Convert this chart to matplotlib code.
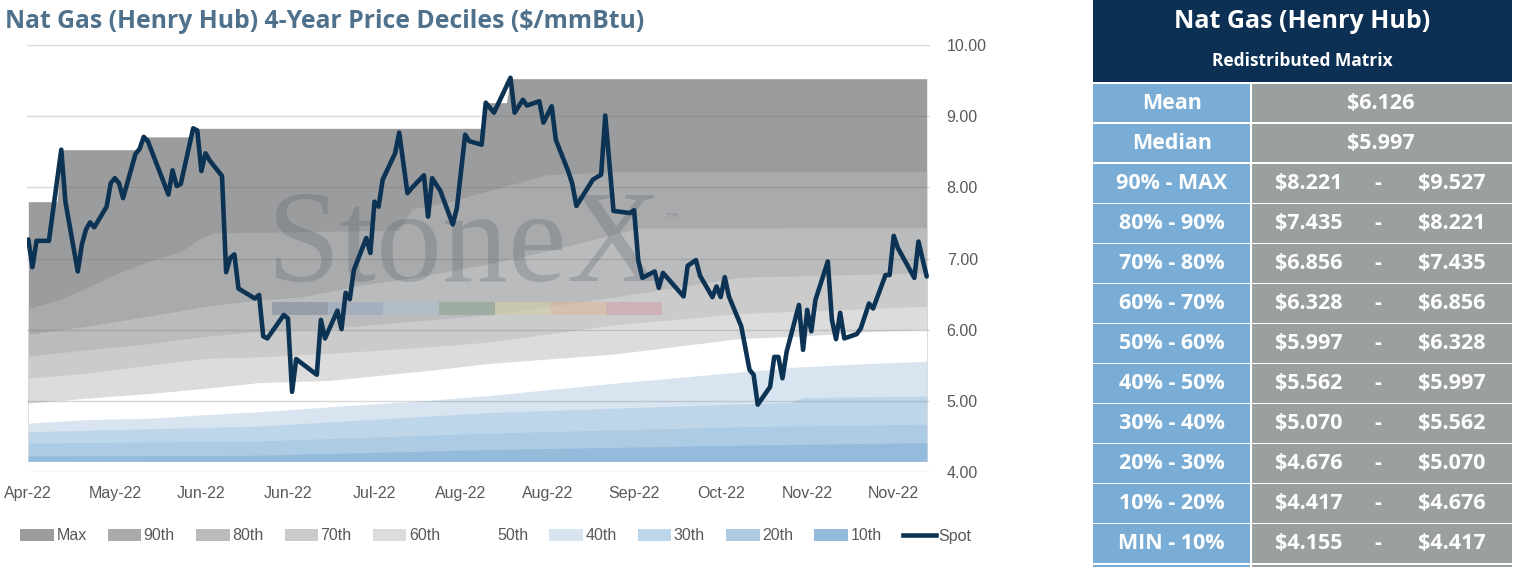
import numpy as np
import matplotlib
matplotlib.use("Agg")
import matplotlib.pyplot as plt
from matplotlib.patches import Rectangle, Patch
from matplotlib.lines import Line2D

# ---------------- data ----------------
title = "Nat Gas (Henry Hub) 4-Year Price Deciles ($/mmBtu)"
tick_idx = [0, 21, 42, 63, 84, 105, 126, 147, 168, 189, 210]
tick_labels = ["Apr-22", "May-22", "Jun-22", "Jun-22", "Jul-22", "Aug-22",
               "Aug-22", "Sep-22", "Oct-22", "Nov-22", "Nov-22"]
n_last = 218

spot_idx = [0, 1, 2, 5, 8, 9, 12, 13, 14, 15, 16, 19, 20, 21, 22, 23, 26, 27, 28, 29,
            34, 35, 36, 37, 40, 41, 42, 43, 44, 47, 48, 49, 50, 51, 55, 56, 57, 58,
            62, 63, 64, 65, 70, 71, 72, 75, 76, 77, 78, 79, 82, 83, 84, 85, 86, 89, 90,
            92, 93, 96, 97, 98, 100, 103, 104, 106, 107, 110, 111, 113, 117, 118, 120,
            121, 124, 125, 127, 128, 131, 132, 133, 137, 139, 140, 142, 146, 147, 148,
            149, 152, 153, 154, 159, 160, 162, 163, 166, 167, 168, 169, 170, 173, 175,
            176, 177, 180, 181, 182, 183, 184, 187, 188, 189, 190, 191, 194, 195, 196,
            197, 198, 201, 202, 204, 205, 208, 209, 210, 211, 215, 216, 218]
spot_val = [7.27, 6.88, 7.25, 7.25, 8.53, 7.80, 6.82, 7.20, 7.41, 7.51, 7.44, 7.73, 8.06,
            8.13, 8.06, 7.85, 8.47, 8.54, 8.71, 8.65, 7.90, 8.24, 8.02, 8.05, 8.83, 8.80,
            8.23, 8.48, 8.38, 8.16, 6.81, 7.01, 7.06, 6.58, 6.44, 6.49, 5.91, 5.88, 6.21,
            6.16, 5.13, 5.59, 5.37, 6.14, 5.88, 6.27, 6.01, 6.52, 6.43, 6.84, 7.29, 7.08,
            7.80, 7.73, 8.11, 8.48, 8.77, 7.92, 7.99, 8.17, 7.59, 8.13, 7.95, 7.48, 7.71,
            8.74, 8.65, 8.60, 9.19, 9.05, 9.54, 9.05, 9.23, 9.15, 9.21, 8.91, 9.14, 8.67,
            8.23, 8.05, 7.74, 8.11, 8.18, 9.01, 7.67, 7.64, 7.68, 6.98, 6.73, 6.82, 6.59,
            6.80, 6.47, 6.90, 6.98, 6.76, 6.46, 6.61, 6.46, 6.74, 6.47, 6.05, 5.44, 5.37,
            4.95, 5.20, 5.62, 5.62, 5.32, 5.69, 6.35, 5.72, 6.28, 5.98, 6.42, 6.96, 6.14,
            5.87, 6.24, 5.88, 5.94, 6.02, 6.37, 6.30, 6.77, 6.77, 7.32, 7.15, 6.73, 7.24,
            6.75]

min_value = 4.155
max_idx = [0, 7, 8, 27, 28, 39, 40, 110, 111, 116, 117, 218]
max_val = [7.80, 7.80, 8.53, 8.53, 8.71, 8.71, 8.83, 8.83, 9.19, 9.19, 9.527, 9.527]
p90_idx = [0, 8, 14, 22, 30, 37, 42, 45, 90, 93, 102, 112, 126, 142, 218]
p90_val = [6.30, 6.43, 6.59, 6.80, 6.98, 7.10, 7.29, 7.36, 7.40, 7.70, 7.80, 7.96, 8.18, 8.22, 8.221]
p80_idx = [0, 14, 30, 43, 50, 56, 66, 80, 95, 112, 129, 148, 218]
p80_val = [5.94, 6.05, 6.20, 6.33, 6.38, 6.42, 6.46, 6.62, 6.75, 6.93, 7.15, 7.43, 7.435]
p70_idx = [0, 14, 30, 43, 56, 73, 97, 112, 142, 173, 218]
p70_val = [5.63, 5.72, 5.81, 5.91, 5.98, 6.02, 6.14, 6.21, 6.46, 6.74, 6.80]
p60_idx = [0, 14, 30, 43, 56, 73, 97, 112, 142, 173, 218]
p60_val = [5.32, 5.39, 5.51, 5.60, 5.62, 5.67, 5.76, 5.83, 6.07, 6.23, 6.33]
p50_idx = [0, 14, 30, 43, 56, 73, 97, 112, 142, 173, 187, 205, 218]
p50_val = [4.97, 5.04, 5.11, 5.18, 5.26, 5.29, 5.43, 5.53, 5.66, 5.88, 5.91, 5.98, 6.00]
p40_idx = [0, 14, 30, 43, 56, 73, 97, 112, 142, 173, 187, 205, 218]
p40_val = [4.69, 4.74, 4.76, 4.81, 4.85, 4.92, 5.01, 5.08, 5.25, 5.41, 5.48, 5.53, 5.56]
p30_idx = [0, 56, 112, 173, 185, 188, 218]
p30_val = [4.57, 4.65, 4.84, 4.96, 4.98, 5.05, 5.07]
p20_idx = [0, 56, 112, 173, 218]
p20_val = [4.41, 4.44, 4.55, 4.64, 4.676]
p10_idx = [0, 56, 112, 173, 218]
p10_val = [4.23, 4.24, 4.32, 4.38, 4.417]

legend_labels = ["Max", "90th", "80th", "70th", "60th", "50th", "40th", "30th", "20th", "10th", "Spot"]

table_title = "Nat Gas (Henry Hub)"
table_subtitle = "Redistributed Matrix"
stat_labels = ["Mean", "Median"]
stat_values = [6.126, 5.997]
range_labels = ["90% - MAX", "80% - 90%", "70% - 80%", "60% - 70%", "50% - 60%",
                "40% - 50%", "30% - 40%", "20% - 30%", "10% - 20%", "MIN - 10%"]
range_low = [8.221, 7.435, 6.856, 6.328, 5.997, 5.562, 5.070, 4.676, 4.417, 4.155]
range_high = [9.527, 8.221, 7.435, 6.856, 6.328, 5.997, 5.562, 5.070, 4.676, 4.417]

# ---------------- styles ----------------
band_colors = ["#9b9c9d", "#a9aaab", "#babbbc", "#cbcbcb", "#dcdcdc", "#ffffff",
               "#d8e5f1", "#bdd6e9", "#adcbe3", "#94bbdc"]
spot_color = "#0c3354"
txt_gray = "#595959"
W, H = 1515, 567

fig = plt.figure(figsize=(W / 100, H / 100), dpi=100)
fig.patch.set_facecolor("white")

ax_l, ax_r, ax_t, ax_b = 26.5, 930.0, 45.0, 472.3
ax = fig.add_axes([ax_l / W, 1 - ax_b / H, (ax_r - ax_l) / W, (ax_b - ax_t) / H])
ax.set_facecolor("none")

layers = [(max_idx, max_val), (p90_idx, p90_val), (p80_idx, p80_val), (p70_idx, p70_val),
          (p60_idx, p60_val), (p50_idx, p50_val), (p40_idx, p40_val), (p30_idx, p30_val),
          (p20_idx, p20_val), (p10_idx, p10_val)]
for (xi, yv), c in zip(layers, band_colors):
    ax.fill_between(xi, min_value, yv, color=c, lw=0, zorder=1)

# watermark
wm_color = "#56626d"
ax.text(464 / W, 1 - 281 / H, "StoneX", transform=fig.transFigure, family="Liberation Serif",
        fontsize=95, color=wm_color, alpha=0.28, ha="center", va="baseline", zorder=1.5)
ax.text(664 / W, 1 - 224 / H, "™", transform=fig.transFigure, family="DejaVu Sans",
        fontsize=12, color=wm_color, alpha=0.3, ha="left", va="baseline", zorder=1.5)
bar_colors = ["#7c8796", "#94a6be", "#abbed0", "#87a18b", "#d4d0a1", "#ddb899", "#d09da8"]
seg_w = (662 - 272) / len(bar_colors)
for i, c in enumerate(bar_colors):
    r = Rectangle(((272 + i * seg_w) / W, 1 - 315 / H), seg_w / W, 13 / H,
                  transform=fig.transFigure, facecolor=c, edgecolor="none", alpha=0.55, zorder=1.6)
    ax.add_artist(r)

ax.plot(spot_idx, spot_val, color=spot_color, lw=3.3, zorder=3, solid_joinstyle="round",
        solid_capstyle="round")

ax.set_xlim(-0.44, n_last + 0.8)
ax.set_ylim(4, 10)
ax.set_yticks(np.arange(4, 10.01, 1))
ax.yaxis.set_major_formatter(matplotlib.ticker.FormatStrFormatter("%.2f"))
ax.set_axisbelow(False)
ax.yaxis.grid(True, color=(0.42, 0.42, 0.42), alpha=0.26, lw=1.0)
ax.set_xticks(tick_idx)
ax.set_xticklabels(tick_labels)
ax.yaxis.tick_right()
for s in ax.spines.values():
    s.set_visible(False)
tick_font = ["Liberation Sans", "DejaVu Sans"]
ax.tick_params(axis="x", length=0, pad=10, labelsize=11.5, labelcolor=txt_gray)
ax.tick_params(axis="y", length=0, pad=12, labelsize=11.5, labelcolor=txt_gray)
for lab in ax.get_xticklabels() + ax.get_yticklabels():
    lab.set_family(tick_font)

# legend
handles = [Patch(facecolor=c, edgecolor="none") for c in band_colors]
handles.append(Line2D([0], [0], color=spot_color, lw=3.3))
leg = fig.legend(handles, legend_labels, ncol=11, loc="center",
                 bbox_to_anchor=(496 / W, 1 - 536 / H), frameon=False,
                 handlelength=2.1, handleheight=0.7, handletextpad=0.15, columnspacing=1.33,
                 prop={"family": tick_font, "size": 11.5})
for t in leg.get_texts():
    t.set_color(txt_gray)

# title
fig.text(5 / W, 1 - 22 / H, title, ha="left", va="center", fontsize=17.8, fontweight="bold",
         color="#4f718c", family=["Open Sans", "DejaVu Sans"])

# ---------------- table ----------------
tb = fig.add_axes([0, 0, 1, 1], zorder=5)
tb.set_xlim(0, W)
tb.set_ylim(H, 0)
tb.axis("off")
tb.patch.set_alpha(0)

x0, xm, x1 = 1093, 1250.5, 1512
navy, blue, gray = "#0c3054", "#7aadd5", "#9aa09f"
tfont = ["Open Sans", "DejaVu Sans"]
tb.add_patch(Rectangle((x0, 0), x1 - x0, 82, facecolor=navy, edgecolor="none"))
tb.text((x0 + x1) / 2, 21, table_title, ha="center", va="center", color="white",
        fontsize=18, fontweight="bold", family=tfont)
tb.text((x0 + x1) / 2, 61.5, table_subtitle, ha="center", va="center", color="white",
        fontsize=12.5, fontweight="bold", family=tfont)

row_tops = [83.5, 123.5, 164.0, 204.0, 244.0, 284.0, 324.0, 364.0, 404.0, 444.0, 484.0, 524.0]
row_h = 38.5
labels_all = stat_labels + range_labels
for i, top in enumerate(row_tops):
    tb.add_patch(Rectangle((x0, top), xm - 1 - x0, row_h, facecolor=blue, edgecolor="none"))
    tb.add_patch(Rectangle((xm + 1, top), x1 - xm - 1, row_h, facecolor=gray, edgecolor="none"))
    cy = top + row_h / 2 + 0.5
    tb.text((x0 + xm) / 2, cy, labels_all[i], ha="center", va="center", color="white",
            fontsize=15.5, fontweight="bold", family=tfont)
    if i < 2:
        tb.text(1381, cy, "$%.3f" % stat_values[i], ha="center", va="center", color="white",
                fontsize=15.5, fontweight="bold", family=tfont)
    else:
        j = i - 2
        tb.text(1309, cy, "$%.3f" % range_low[j], ha="center", va="center", color="white",
                fontsize=15.5, fontweight="bold", family=tfont)
        tb.text(1378, cy, "-", ha="center", va="center", color="white",
                fontsize=15.5, fontweight="bold", family=tfont)
        tb.text(1452, cy, "$%.3f" % range_high[j], ha="center", va="center", color="white",
                fontsize=15.5, fontweight="bold", family=tfont)
# bottom strip
tb.add_patch(Rectangle((x0, 564.5), xm - 1 - x0, 3, facecolor=blue, edgecolor="none"))
tb.add_patch(Rectangle((xm + 1, 564.5), x1 - xm - 1, 3, facecolor=gray, edgecolor="none"))

fig.savefig("out.png", dpi=100, facecolor="white")
